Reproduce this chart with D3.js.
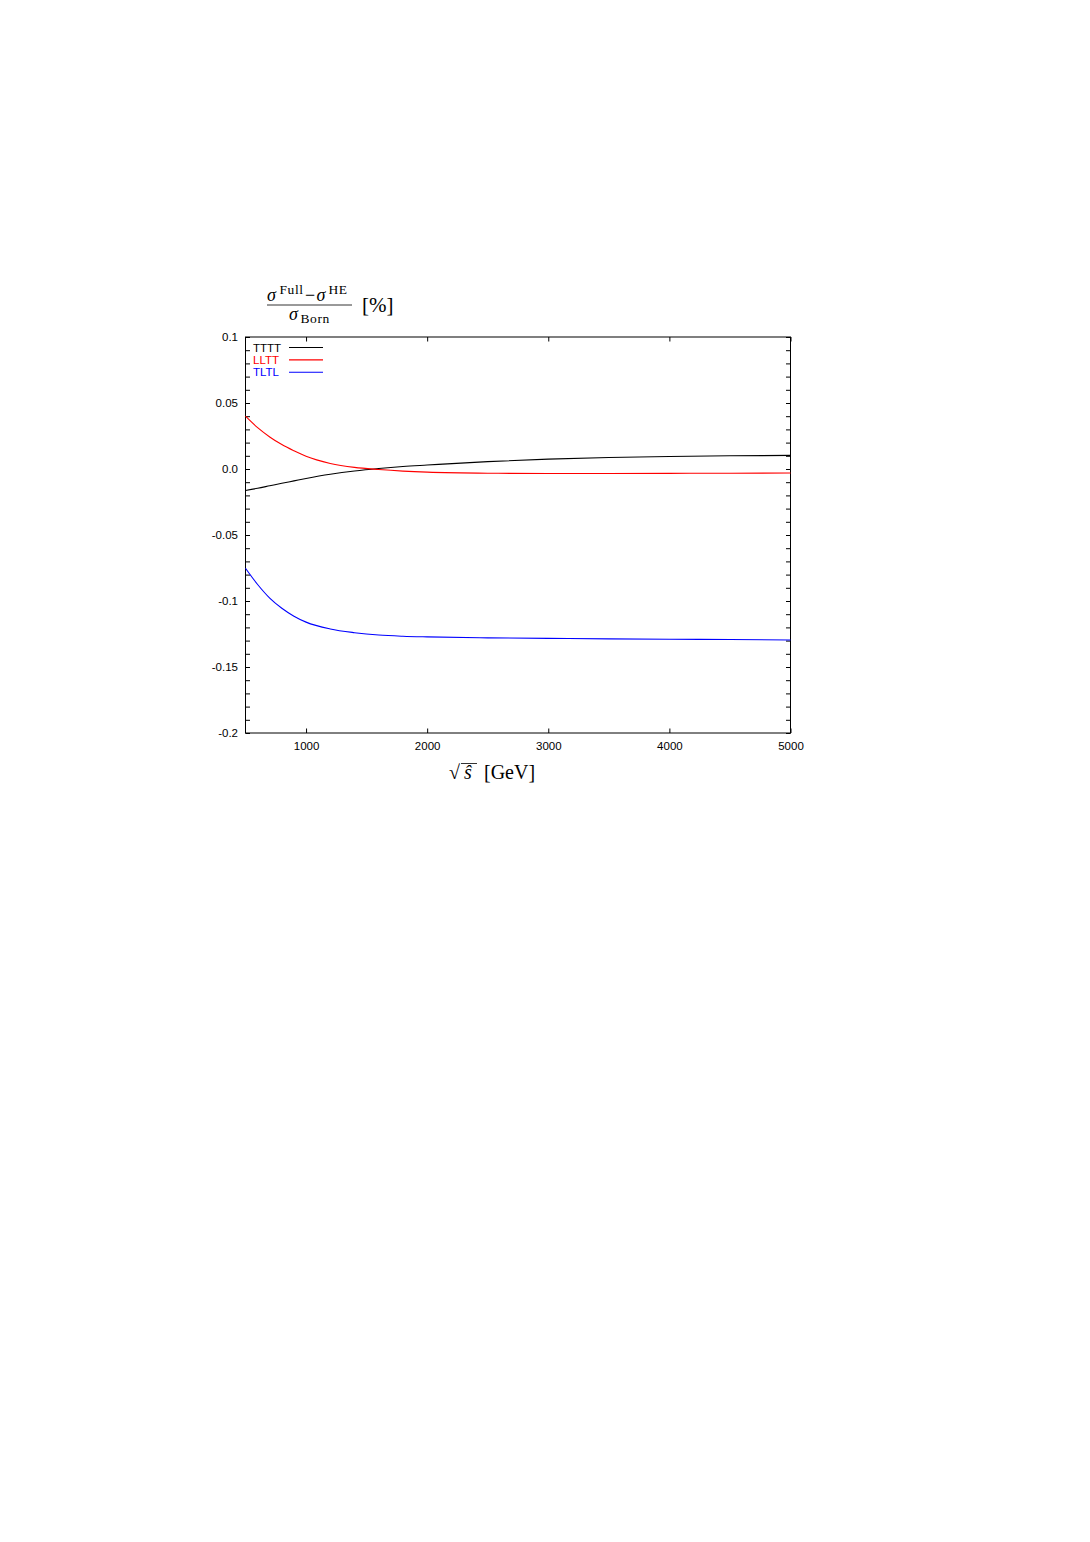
<!DOCTYPE html>
<html>
<head>
<meta charset="utf-8">
<title>sigma full minus HE</title>
<style>
    body { margin: 0; background: #fff; }
    .tick-label { font-family: "Liberation Sans", Arial, sans-serif; font-size: 11.5px; fill: #000; }
    .tex { font-family: "Liberation Serif", "DejaVu Serif", serif; fill: #000; }
    .curve { fill: none; stroke-width: 1.1px; }
    .sup { font-size: 13.5px; letter-spacing: 0.6px; }
</style>
</head>
<body>
<div id="chart"></div>
<script src="https://d3js.org/d3.v7.min.js"></script>
<script>
// sqrt(s) sample points [GeV]
var sqrtS = [500, 600, 700, 800, 900, 1000, 1200, 1400, 1600, 1800, 2000, 2500, 3000, 3500, 4000, 4500, 5000];

// (sigma_Full - sigma_HE) / sigma_Born [%]
var tttt = [-0.0163, -0.0146, -0.0127, -0.0108, -0.0090, -0.0072, -0.0040, -0.0015, 0.0004, 0.0019, 0.0030, 0.0056, 0.0075, 0.0087, 0.0095, 0.0100, 0.0103];
var lltt = [0.0400, 0.0313, 0.0243, 0.0185, 0.0138, 0.0096, 0.0042, 0.0012, -0.0004, -0.0016, -0.0024, -0.0032, -0.0034, -0.0034, -0.0033, -0.0032, -0.0030];
var tltl = [-0.0752, -0.0875, -0.0978, -0.1055, -0.1115, -0.1160, -0.1212, -0.1240, -0.1258, -0.1267, -0.1272, -0.1279, -0.1283, -0.1287, -0.1290, -0.1292, -0.1295];

var seriesNames = ["TTTT", "LLTT", "TLTL"];
var seriesColors = ["#000000", "#ff0000", "#0000ff"];
var seriesData = [tttt, lltt, tltl];

var xTicks = [1000, 2000, 3000, 4000, 5000];
var yTicks = [0.1, 0.05, 0.0, -0.05, -0.1, -0.15, -0.2];
var yTickLabels = ["0.1", "0.05", "0.0", "-0.05", "-0.1", "-0.15", "-0.2"];

var width = 1090,
    height = 1542;

var plot = {left: 245.5, right: 790.5, top: 337, bottom: 733};

var svg = d3.select("#chart")
    .append("svg")
    .attr("width", width)
    .attr("height", height);

var x = d3.scaleLinear()
    .domain([500, 5000])
    .range([plot.left, plot.right]);

var y = d3.scaleLinear()
    .domain([-0.2, 0.1])
    .range([plot.bottom, plot.top]);

// minor ticks every 0.01 on y
var yMinor = d3.range(-20, 11).map(function(d){ return d / 100; });

var tickLen = 4.5;

// bottom axis: ticks inward, labels below
var xAxisBottom = d3.axisBottom(x)
    .tickValues(xTicks)
    .tickSizeInner(-tickLen)
    .tickSizeOuter(0)
    .tickPadding(9)
    .tickFormat(d3.format("d"));

svg.append("g")
    .attr("transform", "translate(0," + plot.bottom + ")")
    .call(xAxisBottom)
    .call(function(g){
        g.select(".domain").remove();
        g.selectAll("text").attr("class", "tick-label").attr("font-family", null).attr("font-size", null);
        g.selectAll("line").attr("stroke", "#000");
    });

// top ticks
svg.append("g")
    .attr("transform", "translate(0," + plot.top + ")")
    .call(d3.axisTop(x).tickValues(xTicks).tickSizeInner(-tickLen).tickSizeOuter(0).tickFormat(""))
    .call(function(g){
        g.select(".domain").remove();
        g.selectAll("line").attr("stroke", "#000");
    });

// left minor ticks + labels
svg.append("g")
    .attr("transform", "translate(" + plot.left + ",0)")
    .call(d3.axisLeft(y).tickValues(yMinor).tickSizeInner(-tickLen).tickSizeOuter(0).tickFormat(""))
    .call(function(g){
        g.select(".domain").remove();
        g.selectAll("line").attr("stroke", "#000");
    });

svg.append("g")
    .selectAll("text")
    .data(yTicks)
    .enter()
    .append("text")
    .attr("class", "tick-label")
    .attr("x", plot.left - 7.5)
    .attr("y", function(d){ return y(d) + 3.5; })
    .attr("text-anchor", "end")
    .text(function(d, i){ return yTickLabels[i]; });

// right minor ticks
svg.append("g")
    .attr("transform", "translate(" + plot.right + ",0)")
    .call(d3.axisRight(y).tickValues(yMinor).tickSizeInner(-tickLen).tickSizeOuter(0).tickFormat(""))
    .call(function(g){
        g.select(".domain").remove();
        g.selectAll("line").attr("stroke", "#000");
    });

// frame
svg.append("rect")
    .attr("x", plot.left)
    .attr("y", plot.top)
    .attr("width", plot.right - plot.left)
    .attr("height", plot.bottom - plot.top)
    .attr("fill", "none")
    .attr("stroke", "#000")
    .attr("stroke-width", 1);

// curves
var line = d3.line()
    .x(function(d, i){ return x(sqrtS[i]); })
    .y(function(d){ return y(d); })
    .curve(d3.curveMonotoneX);

svg.append("g")
    .selectAll("path")
    .data(seriesData)
    .enter()
    .append("path")
    .attr("class", "curve")
    .attr("stroke", function(d, i){ return seriesColors[i]; })
    .attr("d", line);

// legend
var legend = svg.append("g")
    .attr("transform", "translate(253,347.5)");

var item = legend.selectAll("g")
    .data(seriesNames)
    .enter()
    .append("g")
    .attr("transform", function(d, i){ return "translate(0," + (i * 12.4) + ")"; });

item.append("text")
    .attr("class", "tick-label")
    .attr("y", 4)
    .style("fill", function(d, i){ return seriesColors[i]; })
    .text(function(d){ return d; });

item.append("line")
    .attr("x1", 36)
    .attr("x2", 70)
    .attr("stroke", function(d, i){ return seriesColors[i]; })
    .attr("stroke-width", 1.1);

// y label: (sigma^Full - sigma^HE) / sigma_Born  [%]
var ylab = svg.append("g").attr("class", "tex");

var num = ylab.append("text")
    .attr("y", 301)
    .style("font-size", "18px");
num.append("tspan").attr("x", 267).style("font-style", "italic").text("σ");
num.append("tspan").attr("x", 279.5).attr("dy", -7).attr("class", "sup").text("Full");
num.append("tspan").attr("x", 305).attr("dy", 7).text("−");
num.append("tspan").attr("x", 316.5).style("font-style", "italic").text("σ");
num.append("tspan").attr("x", 328.5).attr("dy", -7).attr("class", "sup").text("HE");

ylab.append("line")
    .attr("x1", 267)
    .attr("x2", 352)
    .attr("y1", 305)
    .attr("y2", 305)
    .attr("stroke", "#000")
    .attr("stroke-width", 0.8);

var den = ylab.append("text")
    .attr("y", 320)
    .style("font-size", "18px");
den.append("tspan").attr("x", 289).style("font-style", "italic").text("σ");
den.append("tspan").attr("x", 300.5).attr("dy", 3).attr("class", "sup").text("Born");

ylab.append("text")
    .attr("x", 362)
    .attr("y", 312)
    .style("font-size", "21px")
    .text("[%]");

// x label: sqrt(s-hat) [GeV]
var xlab = svg.append("g").attr("class", "tex");
xlab.append("text")
    .attr("x", 449)
    .attr("y", 779)
    .style("font-size", "20px")
    .text("√");
xlab.append("line")
    .attr("x1", 461)
    .attr("x2", 477)
    .attr("y1", 763.5)
    .attr("y2", 763.5)
    .attr("stroke", "#000")
    .attr("stroke-width", 0.8);
xlab.append("text")
    .attr("x", 464)
    .attr("y", 779)
    .style("font-size", "20px")
    .style("font-style", "italic")
    .text("ŝ");
xlab.append("text")
    .attr("x", 484)
    .attr("y", 779)
    .style("font-size", "20px")
    .text("[GeV]");
</script>
</body>
</html>
